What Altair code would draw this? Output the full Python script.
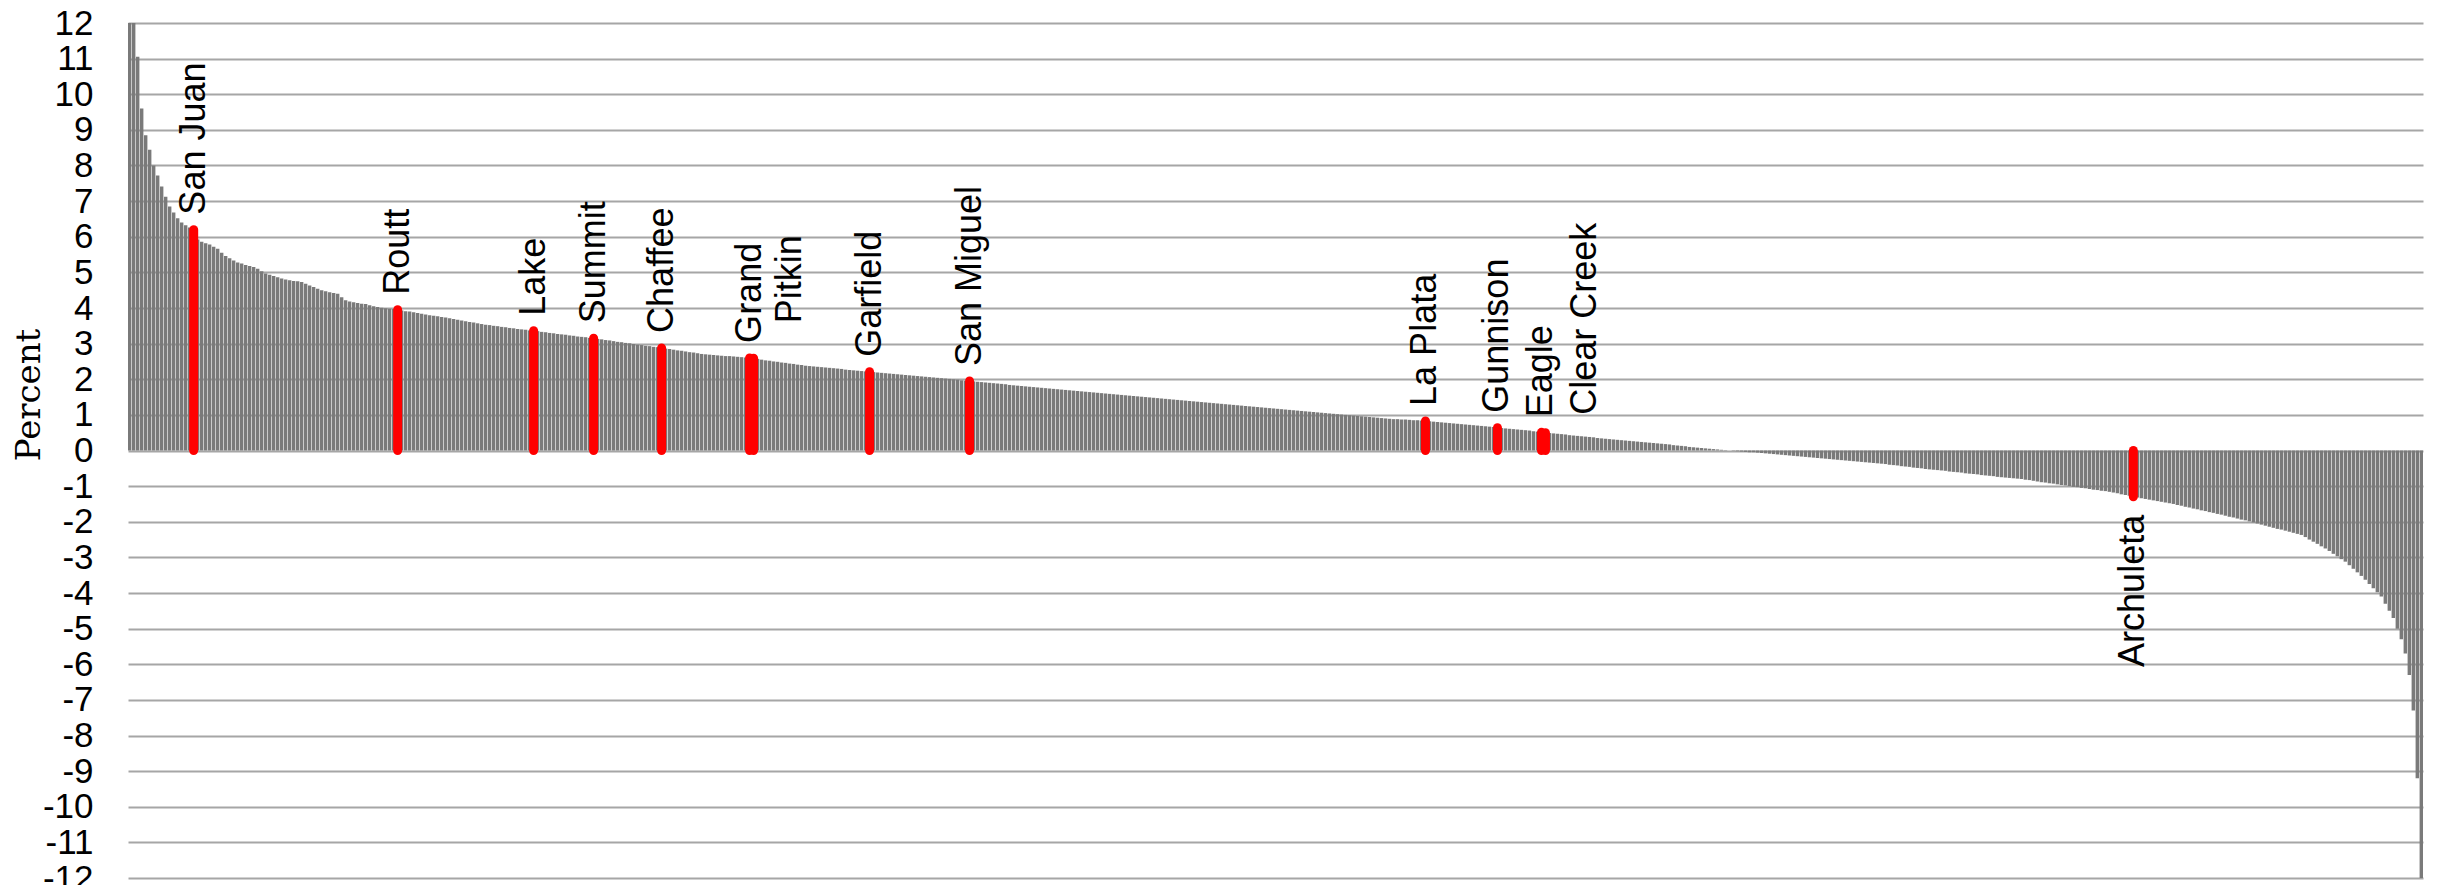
import altair as alt
import pandas as pd

# Percent change per county, sorted from highest to lowest
head_values = [24.0, 15.0, 11.05, 9.6, 8.85, 8.44, 8.0, 7.72, 7.41, 7.12, 6.85, 6.68,
               6.52, 6.4, 6.32, 6.26, 6.2]
upper_values = [5.92, 5.86, 5.82, 5.78, 5.72, 5.66, 5.55, 5.46, 5.4, 5.33,
                5.28, 5.25, 5.21, 5.18, 5.15, 5.1, 5.03, 4.97, 4.93, 4.9,
                4.86, 4.83, 4.8, 4.78, 4.76, 4.75, 4.73, 4.68, 4.63, 4.59,
                4.54, 4.5, 4.47, 4.44, 4.42, 4.4, 4.3, 4.22, 4.18, 4.16,
                4.14, 4.12, 4.11, 4.08, 4.05, 4.03, 4.01, 3.99, 3.98, 3.97, 3.95,
                3.93, 3.91, 3.9, 3.88, 3.86, 3.84, 3.82, 3.8, 3.78, 3.77,
                3.75, 3.73, 3.71, 3.69, 3.67, 3.65, 3.63, 3.61, 3.59, 3.57,
                3.55, 3.53, 3.52, 3.5, 3.49, 3.47, 3.46, 3.44, 3.43, 3.41,
                3.4, 3.39, 3.37, 3.36,
                3.35, 3.33, 3.32, 3.3, 3.29, 3.27, 3.26, 3.25, 3.23, 3.22, 3.2, 3.19, 3.18, 3.16, 3.15,
                3.13, 3.12, 3.1, 3.09, 3.07, 3.05, 3.04, 3.02, 3.01, 2.99, 2.97, 2.96, 2.94, 2.93,
                2.91, 2.9, 2.88]
middle_values = [2.86, 2.85, 2.83, 2.81, 2.8, 2.78, 2.76, 2.75, 2.73, 2.71,
                 2.7, 2.69, 2.68, 2.67, 2.66, 2.65, 2.65, 2.64, 2.63, 2.62, 2.61, 2.6, 2.59,
                 2.57, 2.55, 2.53, 2.52, 2.5, 2.49, 2.47, 2.46, 2.44, 2.43, 2.41, 2.4, 2.38, 2.37,
                 2.36, 2.35, 2.34, 2.33, 2.32, 2.31, 2.3, 2.29, 2.27, 2.26, 2.25, 2.24, 2.23, 2.22, 2.21,
                 2.2, 2.19, 2.18, 2.17, 2.16, 2.15, 2.14, 2.13, 2.12, 2.11, 2.1, 2.09, 2.08, 2.07, 2.06, 2.05,
                 2.04, 2.03, 2.02, 2.01, 2.0, 1.99, 1.97, 1.96, 1.95,
                 1.94, 1.93, 1.92, 1.91, 1.9, 1.89, 1.88, 1.87, 1.86, 1.84, 1.83, 1.82, 1.81, 1.8, 1.79,
                 1.78, 1.77, 1.76, 1.75, 1.74, 1.73, 1.72, 1.71, 1.7, 1.69, 1.68, 1.67, 1.66, 1.65,
                 1.64, 1.63, 1.62, 1.61]
lower_values = [1.6, 1.59, 1.58, 1.57, 1.56, 1.55, 1.54, 1.53, 1.52, 1.51,
                1.5, 1.49, 1.48, 1.47, 1.46, 1.45, 1.44, 1.43, 1.42, 1.41,
                1.4, 1.39, 1.38, 1.37, 1.36, 1.35, 1.34, 1.33, 1.32, 1.31,
                1.3, 1.29, 1.28, 1.27, 1.26, 1.25, 1.24, 1.23, 1.22, 1.21,
                1.2, 1.19, 1.18, 1.17, 1.16, 1.15, 1.14, 1.13, 1.12, 1.11,
                1.1, 1.09, 1.08, 1.07, 1.06,
                1.05, 1.04, 1.03, 1.02, 1.01, 1.0, 0.99, 0.98, 0.97, 0.96,
                0.95, 0.94, 0.93, 0.92, 0.91, 0.9, 0.89, 0.88, 0.88, 0.87,
                0.87, 0.86, 0.85, 0.85, 0.84, 0.83,
                0.82, 0.81, 0.8, 0.79, 0.78, 0.77, 0.76, 0.75, 0.74, 0.73,
                0.72, 0.71, 0.7, 0.69, 0.68, 0.67, 0.66, 0.64,
                0.63, 0.62, 0.61, 0.6, 0.59, 0.58, 0.57, 0.56, 0.54, 0.53, 0.51, 0.5,
                0.49, 0.48, 0.47, 0.46, 0.45, 0.43, 0.42, 0.41, 0.4, 0.39, 0.38, 0.37, 0.35, 0.34,
                0.33, 0.32, 0.31, 0.3, 0.29, 0.28, 0.27, 0.26, 0.25, 0.24, 0.23, 0.22, 0.21, 0.2,
                0.19, 0.18, 0.17, 0.15, 0.14,
                0.13, 0.12, 0.1, 0.09, 0.08, 0.07, 0.06, 0.05, 0.04, 0.03, 0.02, 0.01]
negative_values = [0.0, -0.01, -0.02, -0.03, -0.04, -0.05, -0.05, -0.06, -0.07, -0.08,
                   -0.09, -0.1, -0.11, -0.12, -0.13, -0.14, -0.15, -0.16, -0.17,
                   -0.18, -0.19, -0.2, -0.21, -0.22, -0.23, -0.24, -0.25, -0.26, -0.27,
                   -0.28, -0.29, -0.3, -0.31, -0.32, -0.33, -0.34, -0.35, -0.36,
                   -0.37, -0.38, -0.4, -0.41, -0.42, -0.44, -0.45, -0.46, -0.48, -0.49,
                   -0.5, -0.52, -0.53, -0.54, -0.55, -0.56, -0.57, -0.59, -0.6,
                   -0.61, -0.62, -0.64, -0.65, -0.66, -0.67, -0.69, -0.7, -0.71, -0.72,
                   -0.74, -0.75, -0.76, -0.77, -0.78, -0.79, -0.8, -0.82, -0.83,
                   -0.85, -0.87, -0.89, -0.9, -0.92, -0.93, -0.95, -0.97, -0.98, -1.0,
                   -1.02, -1.03, -1.05, -1.06, -1.08, -1.1, -1.11, -1.13, -1.14, -1.16,
                   -1.18, -1.2, -1.23, -1.25, -1.27, -1.3,
                   -1.32, -1.34, -1.36, -1.38, -1.4, -1.42, -1.44, -1.46, -1.48, -1.5,
                   -1.53, -1.55, -1.58,
                   -1.6, -1.63, -1.65, -1.68, -1.7, -1.73, -1.75, -1.78, -1.8, -1.83, -1.86]
tail_values = [-1.88, -1.91, -1.94, -1.96, -1.99, -2.02, -2.05, -2.08, -2.11, -2.14,
               -2.17, -2.2, -2.22, -2.25, -2.28, -2.31, -2.34, -2.37,
               -2.43, -2.5, -2.56, -2.62, -2.69, -2.75,
               -2.82, -2.9, -2.97, -3.05, -3.12,
               -3.22, -3.32, -3.42, -3.52, -3.63,
               -3.75, -3.87, -3.98, -4.1,
               -4.3, -4.5, -4.7, -5.0, -5.3, -5.7, -6.3, -7.3, -9.2, -13.0]

all_values = head_values + upper_values + middle_values + lower_values + negative_values + tail_values
counties = pd.DataFrame({"rank": list(range(len(all_values))), "pct": all_values})

# Highlighted Colorado counties
hl_names = ["San Juan", "Routt", "Lake", "Summit", "Chaffee", "Grand", "Pitkin",
            "Garfield", "San Miguel", "La Plata", "Gunnison", "Eagle", "Clear Creek",
            "Archuleta"]
hl_rank = [16, 67, 101, 116, 133, 155, 156, 185, 210, 324, 342, 353, 354, 501]
hl_pct = [6.2, 3.95, 3.36, 3.15, 2.88, 2.6, 2.59, 2.21, 1.95, 0.83, 0.64, 0.51, 0.5, -1.3]
highlights = pd.DataFrame({"county": hl_names, "rank": hl_rank, "pct": hl_pct})

y_ticks = list(range(-12, 13))
y_title = pd.DataFrame({"label": ["Percent"]})

x_enc = alt.X("rank:O", axis=None,
              scale=alt.Scale(paddingInner=0.15, paddingOuter=0))
y_scale = alt.Scale(domain=[-12, 12], nice=False, zero=True)
y_axis = alt.Axis(values=y_ticks, title=None,
                  labelExpr="'' + datum.value", labelOverlap=False,
                  labelFont="Liberation Sans", labelFontSize=35,
                  labelColor="#000000", labelPadding=35,
                  ticks=False, tickSize=0, domain=False,
                  grid=True, gridColor="#a6a6a6", gridWidth=2)
y_enc = alt.Y("pct:Q", scale=y_scale, axis=y_axis, title=None)

bars = alt.Chart(counties).mark_bar(color="#7a7a7a", clip=True).encode(
    x=x_enc,
    y=y_enc,
)

red = alt.Chart(highlights).mark_rule(color="#ff0000", strokeWidth=9, strokeCap="round").encode(
    x=x_enc,
    y=y_enc,
    y2=alt.datum(0),
)

text_style = dict(angle=270, baseline="middle", fontSize=36,
                  font="Liberation Sans", color="#000000")

labels_main = alt.Chart(highlights).transform_filter(
    alt.FieldOneOfPredicate(field="county",
                            oneOf=["San Juan", "Routt", "Lake", "Summit", "Chaffee", "Grand",
                                   "Garfield", "San Miguel", "La Plata", "Gunnison", "Eagle"])
).mark_text(align="left", dx=15, **text_style).encode(
    x=x_enc, y=y_enc, text="county:N")

labels_pitkin = alt.Chart(highlights).transform_filter(
    alt.FieldEqualPredicate(field="county", equal="Pitkin")
).mark_text(align="left", dx=35, dy=36, **text_style).encode(
    x=x_enc, y=y_enc, text="county:N")

labels_clear = alt.Chart(highlights).transform_filter(
    alt.FieldEqualPredicate(field="county", equal="Clear Creek")
).mark_text(align="left", dx=18, dy=40, **text_style).encode(
    x=x_enc, y=y_enc, text="county:N")

labels_neg = alt.Chart(highlights).transform_filter(
    alt.FieldEqualPredicate(field="county", equal="Archuleta")
).mark_text(align="right", dx=-18, **text_style).encode(
    x=x_enc, y=y_enc, text="county:N")

# y-axis title, drawn as its own text so its size is exact
axis_title = alt.Chart(y_title).mark_text(
    angle=270, align="center", baseline="middle", fontSize=34,
    font="DejaVu Serif", color="#000000"
).encode(x=alt.value(-98), y=alt.value(372), text="label:N")

chart = alt.layer(bars, red, labels_main, labels_pitkin, labels_clear, labels_neg,
                  axis_title).properties(
    width=2295, height=855,
    autosize=alt.AutoSizeParams(type="none"),
    padding={"left": 120, "top": 15, "right": 10, "bottom": 7},
    background="#ffffff",
).configure_view(stroke=None)

chart.save("out.html", embed_options={"renderer": "svg", "actions": False})
